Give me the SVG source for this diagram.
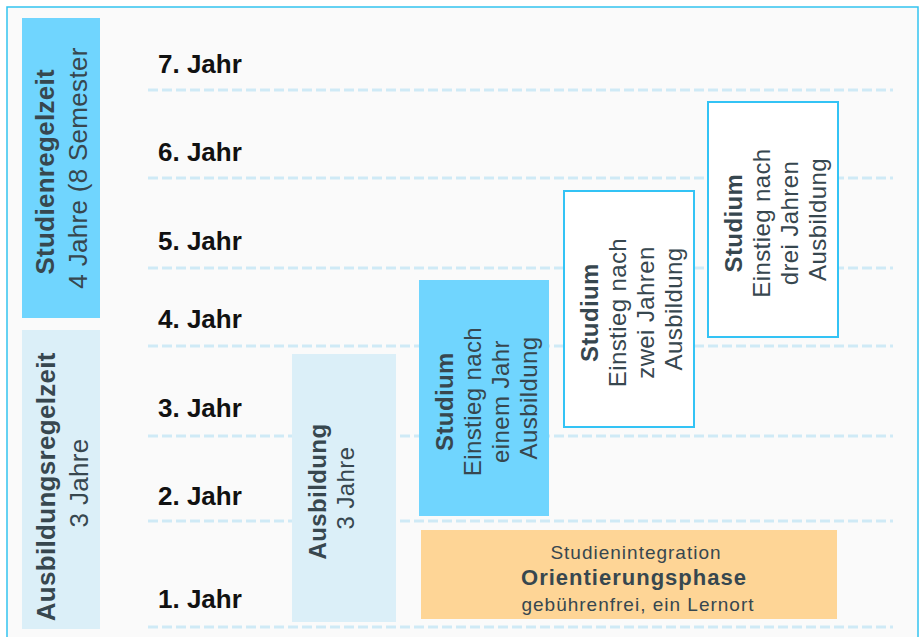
<svg xmlns="http://www.w3.org/2000/svg" width="920" height="637" viewBox="0 0 920 637">
<style>
  .grid line { stroke: #cfeaf6; stroke-width: 3; stroke-dasharray: 10 4; }
  .year { font-family: "Liberation Sans", Arial, sans-serif; font-size: 26px; font-weight: bold; fill: #111111; }
  .lbl { font-family: "Liberation Sans", Arial, sans-serif; fill: #37474f; text-anchor: middle; }
  .big { font-size: 26px; letter-spacing: 0.3px; }
  .mid { font-size: 24px; letter-spacing: 0.4px; }
  .b { font-weight: bold; }
  .cyan { fill: #70d5fe; }
  .pale { fill: #dbeff8; }
  .outline { fill: #ffffff; stroke: #33c3f5; stroke-width: 2; }
  .peach { fill: #fed596; }
</style>
<rect x="0" y="0" width="920" height="637" fill="#ffffff"/>
<rect x="7" y="7" width="911" height="640" fill="#fafafa" stroke="#33c3f0" stroke-width="1.5"/>

<g id="grid" class="grid">
  <line x1="148" y1="90" x2="893" y2="90"/>
  <line x1="148" y1="178" x2="893" y2="178"/>
  <line x1="148" y1="268" x2="893" y2="268"/>
  <line x1="148" y1="346" x2="893" y2="346"/>
  <line x1="148" y1="436" x2="893" y2="436"/>
  <line x1="148" y1="521" x2="893" y2="521"/>
  <line x1="148" y1="627" x2="893" y2="627"/>
</g>

<g id="years">
  <text class="year" x="158" y="73">7. Jahr</text>
  <text class="year" x="158" y="161">6. Jahr</text>
  <text class="year" x="158" y="250">5. Jahr</text>
  <text class="year" x="158" y="328">4. Jahr</text>
  <text class="year" x="158" y="417">3. Jahr</text>
  <text class="year" x="158" y="505">2. Jahr</text>
  <text class="year" x="158" y="608">1. Jahr</text>
</g>

<g id="studienregelzeit">
  <rect class="cyan" x="22" y="18" width="78" height="300"/>
  <text class="lbl big" transform="translate(22,168) rotate(-90)">
    <tspan class="b" x="0" y="32">Studienregelzeit</tspan>
    <tspan x="0" y="65">4 Jahre (8 Semester</tspan>
  </text>
</g>

<g id="ausbildungsregelzeit">
  <rect class="pale" x="22" y="330" width="78" height="299"/>
  <text class="lbl big" transform="translate(22,483) rotate(-90)">
    <tspan class="b" x="0" y="33">Ausbildungsregelzeit</tspan>
    <tspan x="0" y="66">3 Jahre</tspan>
  </text>
</g>

<g id="ausbildung">
  <rect class="pale" x="292" y="354" width="104" height="268"/>
  <text class="lbl mid" transform="translate(292,488) rotate(-90)">
    <tspan class="b" x="0" y="34">Ausbildung</tspan>
    <tspan x="0" y="62">3 Jahre</tspan>
  </text>
</g>

<g id="studium1">
  <rect class="cyan" x="419" y="280" width="130" height="236"/>
  <text class="lbl mid" transform="translate(419,398) rotate(-90)">
    <tspan class="b" x="0" y="34">Studium</tspan>
    <tspan x="0" y="62">Einstieg nach</tspan>
    <tspan x="0" y="90">einem Jahr</tspan>
    <tspan x="0" y="118">Ausbildung</tspan>
  </text>
</g>

<g id="studium2">
  <rect class="outline" x="564" y="191" width="130" height="236"/>
  <text class="lbl mid" transform="translate(564,309) rotate(-90)">
    <tspan class="b" x="0" y="34">Studium</tspan>
    <tspan x="0" y="62">Einstieg nach</tspan>
    <tspan x="0" y="90">zwei Jahren</tspan>
    <tspan x="0" y="118">Ausbildung</tspan>
  </text>
</g>

<g id="studium3">
  <rect class="outline" x="708" y="102" width="130" height="235"/>
  <text class="lbl mid" transform="translate(708,219.5) rotate(-90)">
    <tspan class="b" x="0" y="34">Studium</tspan>
    <tspan x="0" y="62">Einstieg nach</tspan>
    <tspan x="0" y="90">drei Jahren</tspan>
    <tspan x="0" y="118">Ausbildung</tspan>
  </text>
</g>

<g id="orientierungsphase">
  <rect class="peach" x="421" y="530" width="416" height="89"/>
  <text class="lbl" x="636" y="559" font-size="19" letter-spacing="1">Studienintegration</text>
  <text class="lbl b" x="634" y="585" font-size="22" letter-spacing="1">Orientierungsphase</text>
  <text class="lbl" x="638" y="611" font-size="19" letter-spacing="1">gebührenfrei, ein Lernort</text>
</g>
</svg>
